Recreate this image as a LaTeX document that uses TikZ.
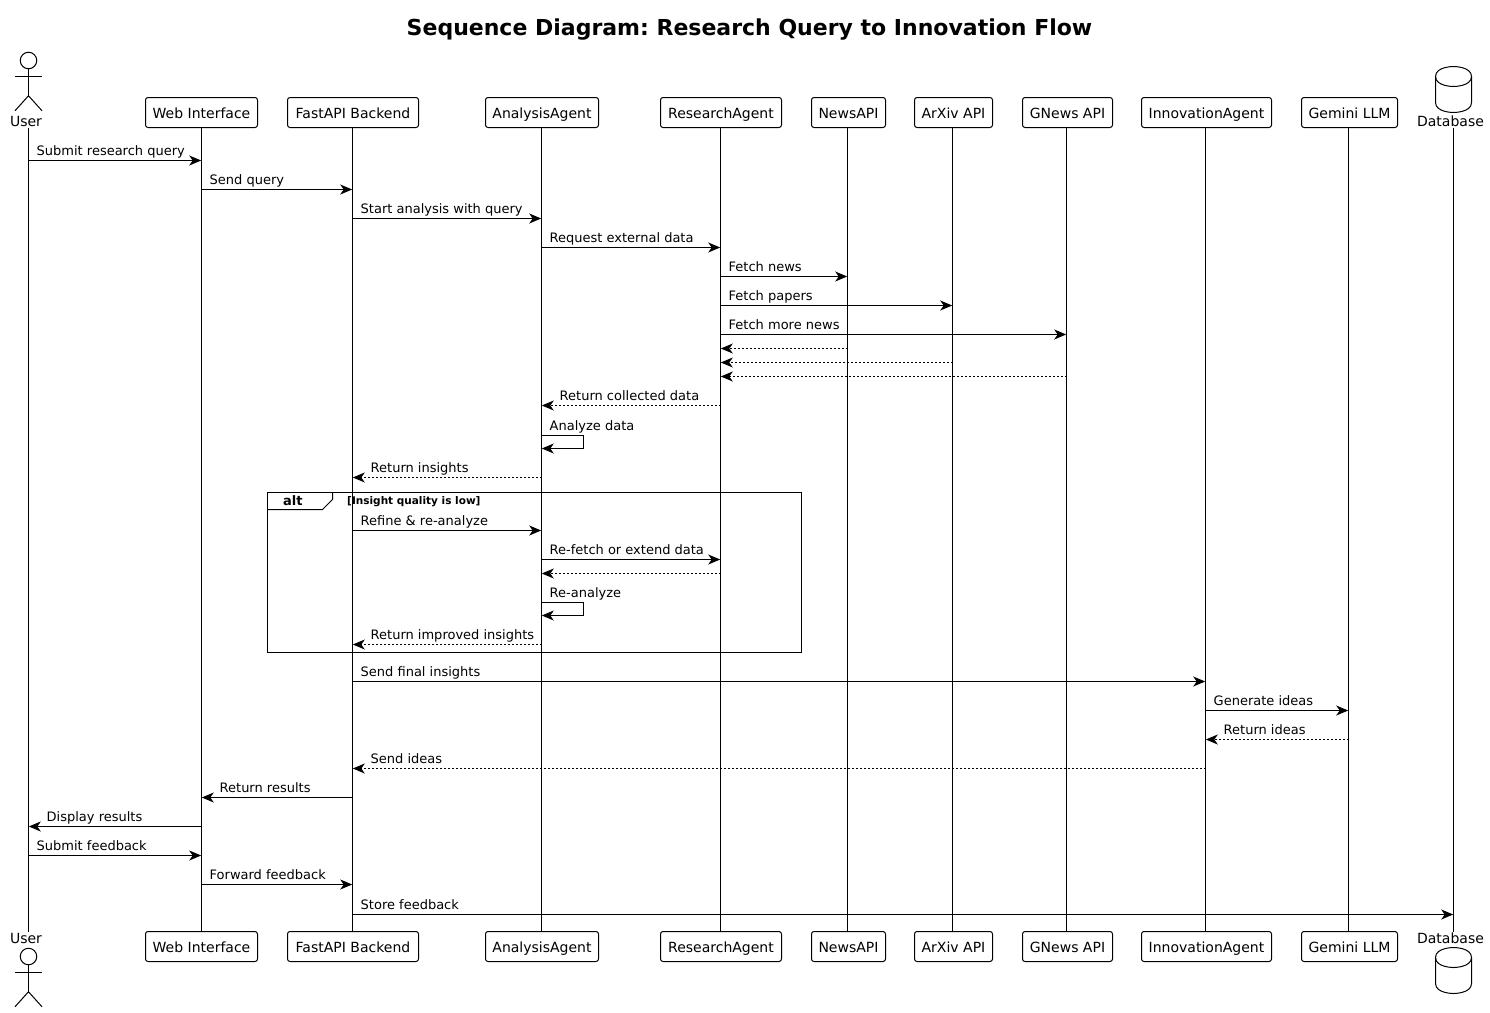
\documentclass[tikz,border=0pt]{standalone}
\usepackage{fontspec}
\setmainfont{DejaVu Sans}
\usetikzlibrary{arrows.meta}
\frenchspacing
\tikzset{
  partbox/.style={draw,line width=1pt,rounded corners=2.5pt,fill=white,inner sep=0pt,minimum height=30pt,text height=11pt,text depth=0pt,font=\fontsize{14}{16}\selectfont},
  life/.style={line width=1pt},
  fig/.style={line width=1pt},
  arrowline/.style={line width=1pt,-{Stealth[length=12pt,width=10pt,inset=3.5pt]},shorten >=0.3pt},
  retline/.style={arrowline,dash pattern=on 2pt off 2pt},
  msglabel/.style={anchor=base west,inner sep=0pt,font=\fontsize{13}{15}\selectfont},
  actorlabel/.style={anchor=base,inner sep=0pt,font=\fontsize{14}{16}\selectfont},
}
% from, to, y, label
\newcommand{\callmsg}[4]{\draw[arrowline] (#1 |- 0,#3) -- (#2 |- 0,#3);
  \node[msglabel] (c#3) at ([xshift=8pt]#1 |- 0,#3-5) {#4};}
\newcommand{\retmsg}[4]{\draw[retline] (#1 |- 0,#3) -- (#2 |- 0,#3);
  \node[msglabel] (r#3) at ([xshift=18pt]#2 |- 0,#3-5) {#4};}
\newcommand{\backcall}[4]{\draw[arrowline] (#1 |- 0,#3) -- (#2 |- 0,#3);
  \node[msglabel] (b#3) at ([xshift=18pt]#2 |- 0,#3-5) {#4};}
\newcommand{\selfmsg}[3]{\draw[arrowline] (#1 |- 0,#2) -- ([xshift=42pt]#1 |- 0,#2) -- ([xshift=42pt]#1 |- 0,#2+13) -- (#1 |- 0,#2+13);
  \node[msglabel] (s#2) at ([xshift=8pt]#1 |- 0,#2-5) {#3};}
\begin{document}
\begin{tikzpicture}[x=1pt,y=-1pt]
\useasboundingbox[fill=white] (0,0) rectangle (1490,1012);
\node[anchor=base,inner sep=0pt,font=\fontsize{22}{24}\selectfont\bfseries] (title) at (749.5,35) {Sequence Diagram: Research Query to Innovation Flow};

% lifeline positions
\coordinate (lu) at (28.5,0);
\coordinate (lw) at (201.5,0);
\coordinate (lf) at (352.5,0);
\coordinate (lan) at (541.5,0);
\coordinate (lr) at (720.5,0);
\coordinate (ln) at (847.5,0);
\coordinate (lx) at (952.5,0);
\coordinate (lg) at (1066.5,0);
\coordinate (li) at (1205.5,0);
\coordinate (lm) at (1348.5,0);
\coordinate (ld) at (1453.5,0);

% actor labels
\node[actorlabel] (userT) at (26,126) {User};
\node[actorlabel] (userB) at (26,943) {User};
\node[actorlabel] (dbT) at (1450.5,126) {Database};
\node[actorlabel] (dbB) at (1450.5,943) {Database};

% participant boxes
\foreach \nm/\txt/\xa/\xb in {web/Web Interface/145.5/257.5, fast/FastAPI Backend/287.5/418.5, ana/AnalysisAgent/485.5/598.5, res/ResearchAgent/660.5/781.5, news/NewsAPI/811.5/885.5, arx/ArXiv API/914.5/992.5, gnw/GNews API/1022.5/1112.5, inn/InnovationAgent/1141.5/1271.5, gem/Gemini LLM/1301.5/1397.5}{
  \node[partbox,minimum width=\xb pt-\xa pt] (\nm T) at ({(\xa+\xb)/2},112.5) {\txt};
  \node[partbox,minimum width=\xb pt-\xa pt] (\nm B) at ({(\xa+\xb)/2},946.5) {\txt};
}

% lifelines
\draw[life] (lu |- 0,128) -- (lu |- 0,932);
\draw[life] (lw |- webT.south) -- (lw |- webB.north);
\draw[life] (lf |- fastT.south) -- (lf |- fastB.north);
\draw[life] (lan |- anaT.south) -- (lan |- anaB.north);
\draw[life] (lr |- resT.south) -- (lr |- resB.north);
\draw[life] (ln |- newsT.south) -- (ln |- newsB.north);
\draw[life] (lx |- arxT.south) -- (lx |- arxB.north);
\draw[life] (lg |- gnwT.south) -- (lg |- gnwB.north);
\draw[life] (li |- innT.south) -- (li |- innB.north);
\draw[life] (lm |- gemT.south) -- (lm |- gemB.north);
\draw[life] (ld |- 0,128) -- (ld |- 0,932);

% actors
\foreach \nm/\y in {a/60.5,b/956.5}{
  \node[draw,circle,line width=1pt,minimum size=16.5pt,inner sep=0pt] (head\nm) at (28.5,\y) {};
  \draw[fig] (head\nm.south) -- ++(0,26.5) coordinate (hip\nm);
  \draw[fig] (hip\nm) -- ++(-13.5,15) (hip\nm) -- ++(13.5,15);
  \draw[fig] (15,\y+15.5) -- (42,\y+15.5);
}

% database cylinders
\foreach \t in {66.5,947.5}{
  \draw[fig,fill=white] (1435.5,\t+10) .. controls (1435.5,\t) and (1453.5,\t) .. (1453.5,\t)
    .. controls (1453.5,\t) and (1471.5,\t) .. (1471.5,\t+10)
    -- (1471.5,\t+36) .. controls (1471.5,\t+46) and (1453.5,\t+46) .. (1453.5,\t+46)
    .. controls (1453.5,\t+46) and (1435.5,\t+46) .. (1435.5,\t+36) -- cycle;
  \draw[fig] (1435.5,\t+10) .. controls (1435.5,\t+20) and (1453.5,\t+20) .. (1453.5,\t+20)
    .. controls (1453.5,\t+20) and (1471.5,\t+20) .. (1471.5,\t+10);
}

% messages
\callmsg{lu}{lw}{160.5}{Submit research query}
\callmsg{lw}{lf}{189.5}{Send query}
\callmsg{lf}{lan}{218.5}{Start analysis with query}
\callmsg{lan}{lr}{247.5}{Request external data}
\callmsg{lr}{ln}{276.5}{Fetch news}
\callmsg{lr}{lx}{305.5}{Fetch papers}
\callmsg{lr}{lg}{334.5}{Fetch more news}
\draw[retline] (ln |- 0,348.5) -- (lr |- 0,348.5);
\draw[retline] (lx |- 0,362.5) -- (lr |- 0,362.5);
\draw[retline] (lg |- 0,376.5) -- (lr |- 0,376.5);
\retmsg{lr}{lan}{405.5}{Return collected data}
\selfmsg{lan}{435.5}{Analyze data}
\retmsg{lan}{lf}{477.5}{Return insights}

% alt frame
\draw[fig] (267.5,492.5) rectangle (801.5,652.5);
\draw[fig] (267.5,509.5) -- (322.5,509.5) -- (332.5,499.5) -- (332.5,492.5);
\node[anchor=base west,inner sep=0pt,font=\fontsize{13}{15}\selectfont\bfseries] (alttag) at (283,505) {alt};
\node[anchor=base west,inner sep=0pt,font=\fontsize{10.5}{13}\selectfont\bfseries] (altcond) at (347,504) {[Insight quality is low]};

\callmsg{lf}{lan}{530.5}{Refine \& re-analyze}
\callmsg{lan}{lr}{559.5}{Re-fetch or extend data}
\draw[retline] (lr |- 0,573.5) -- (lan |- 0,573.5);
\selfmsg{lan}{602.5}{Re-analyze}
\retmsg{lan}{lf}{644.5}{Return improved insights}

\callmsg{lf}{li}{681.5}{Send final insights}
\callmsg{li}{lm}{710.5}{Generate ideas}
\retmsg{lm}{li}{739.5}{Return ideas}
\retmsg{li}{lf}{768.5}{Send ideas}
\backcall{lf}{lw}{797.5}{Return results}
\backcall{lw}{lu}{826.5}{Display results}
\callmsg{lu}{lw}{855.5}{Submit feedback}
\callmsg{lw}{lf}{884.5}{Forward feedback}
\callmsg{lf}{ld}{914.5}{Store feedback}
\end{tikzpicture}
\end{document}
